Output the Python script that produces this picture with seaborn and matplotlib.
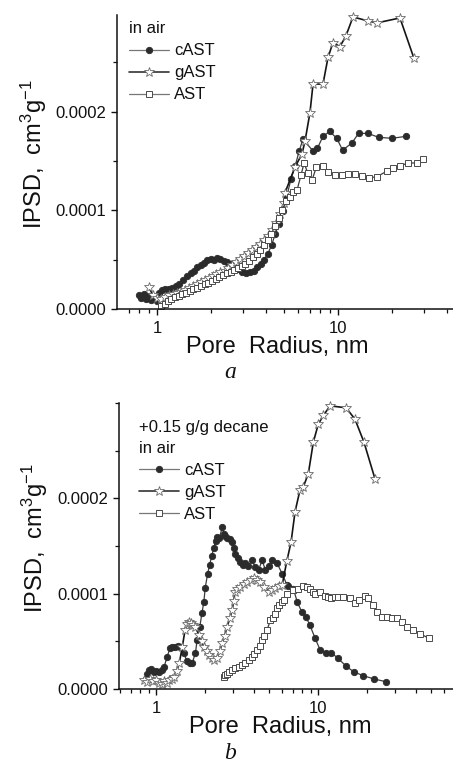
import numpy as np
import pandas as pd
import matplotlib
matplotlib.use("Agg")
import matplotlib.pyplot as plt
import matplotlib.ticker as mticker
import seaborn as sns

# ---------------- data ----------------
# Panel a: in air
a_cAST_r = [0.80, 0.82, 0.85, 0.87, 0.90, 0.93, 0.96, 1.00, 1.03, 1.07, 1.11, 1.16, 1.21, 1.27,
            1.33, 1.40, 1.47, 1.54, 1.60, 1.67, 1.75, 1.82, 1.90, 1.98, 2.06, 2.15, 2.24, 2.34,
            2.44, 2.55, 2.68, 2.82, 2.95, 3.10, 3.26, 3.42, 3.58, 3.74, 3.90, 4.10, 4.30, 4.50,
            4.70, 4.95, 5.2, 5.5, 5.8, 6.1, 6.4, 7.3, 7.7, 8.26, 9.0, 9.85, 10.6, 11.9, 13.0,
            14.6, 16.8, 19.9, 23.7]
a_cAST_v = [1.4e-5, 1.1e-5, 1.5e-5, 1.0e-5, 1.3e-5, 0.9e-5, 1.2e-5, 0.8e-5, 1.6e-5, 1.9e-5,
            2.0e-5, 2.0e-5, 2.1e-5, 2.3e-5, 2.5e-5, 2.9e-5, 3.3e-5, 3.6e-5, 3.9e-5, 4.3e-5,
            4.5e-5, 4.7e-5, 5.0e-5, 5.1e-5, 5.0e-5, 5.2e-5, 5.1e-5, 4.9e-5, 4.8e-5, 4.6e-5,
            4.4e-5, 4.1e-5, 3.8e-5, 3.6e-5, 3.7e-5, 3.9e-5, 4.3e-5, 4.6e-5, 5.0e-5, 5.6e-5,
            6.5e-5, 7.6e-5, 8.6e-5, 9.9e-5, 1.13e-4, 1.32e-4, 1.45e-4, 1.60e-4, 1.72e-4,
            1.60e-4, 1.63e-4, 1.75e-4, 1.80e-4, 1.73e-4, 1.61e-4, 1.68e-4, 1.78e-4, 1.78e-4,
            1.74e-4, 1.73e-4, 1.75e-4]

a_gAST_r = [0.90, 0.95, 1.00, 1.05, 1.10, 1.16, 1.22, 1.29, 1.36, 1.43, 1.50, 1.58, 1.66, 1.75,
            1.84, 1.93, 2.03, 2.13, 2.24, 2.36, 2.48, 2.61, 2.74, 2.88, 3.03, 3.19, 3.35, 3.52,
            3.70, 3.90, 4.10, 4.31, 4.53, 4.76, 5.00, 5.10, 5.79, 6.32, 6.57, 7.00, 7.28, 8.26,
            8.81, 9.38, 10.26, 11.07, 12.10, 14.65, 16.41, 22.0, 26.3]
a_gAST_v = [2.2e-5, 1.4e-5, 1.1e-5, 1.0e-5, 1.2e-5, 1.4e-5, 1.5e-5, 1.6e-5, 1.7e-5, 1.9e-5,
            2.1e-5, 2.3e-5, 2.5e-5, 2.7e-5, 2.9e-5, 3.1e-5, 3.3e-5, 3.5e-5, 3.7e-5, 3.9e-5,
            4.2e-5, 4.5e-5, 4.8e-5, 5.1e-5, 5.4e-5, 5.7e-5, 6.0e-5, 6.3e-5, 6.6e-5, 7.0e-5,
            7.4e-5, 8.0e-5, 8.7e-5, 9.6e-5, 1.07e-4, 1.18e-4, 1.44e-4, 1.57e-4, 1.70e-4,
            1.99e-4, 2.28e-4, 2.28e-4, 2.55e-4, 2.70e-4, 2.66e-4, 2.77e-4, 2.96e-4, 2.92e-4,
            2.90e-4, 2.95e-4, 2.54e-4]

a_AST_r = [1.05, 1.10, 1.15, 1.20, 1.26, 1.32, 1.38, 1.45, 1.52, 1.59, 1.67, 1.75, 1.83, 1.92,
           2.01, 2.11, 2.21, 2.32, 2.43, 2.55, 2.67, 2.80, 2.94, 3.08, 3.23, 3.38, 3.55, 3.72,
           3.90, 4.08, 4.28, 4.48, 4.70, 4.92, 5.15, 5.40, 5.65, 5.95, 6.25, 6.5, 6.8, 7.2,
           7.6, 8.26, 8.8, 9.6, 10.5, 11.4, 12.4, 13.6, 14.8, 16.4, 18.7, 20.1, 22.0, 24.4,
           27.2, 29.5]
a_AST_v = [3e-6, 5e-6, 8e-6, 1.0e-5, 1.2e-5, 1.3e-5, 1.5e-5, 1.6e-5, 1.8e-5, 2.0e-5, 2.1e-5,
           2.3e-5, 2.5e-5, 2.6e-5, 2.8e-5, 3.0e-5, 3.2e-5, 3.4e-5, 3.6e-5, 3.8e-5, 4.0e-5,
           4.2e-5, 4.4e-5, 4.6e-5, 4.9e-5, 5.3e-5, 5.6e-5, 6.0e-5, 6.5e-5, 7.0e-5, 7.6e-5,
           8.4e-5, 9.2e-5, 1.0e-4, 1.09e-4, 1.14e-4, 1.19e-4, 1.21e-4, 1.36e-4, 1.48e-4,
           1.38e-4, 1.31e-4, 1.44e-4, 1.45e-4, 1.39e-4, 1.36e-4, 1.36e-4, 1.37e-4, 1.37e-4,
           1.35e-4, 1.33e-4, 1.34e-4, 1.40e-4, 1.43e-4, 1.45e-4, 1.48e-4, 1.48e-4, 1.52e-4]

# Panel b: +0.15 g/g decane, in air
b_cAST_r = [0.86, 0.88, 0.90, 0.93, 0.97, 1.00, 1.04, 1.08, 1.12, 1.17, 1.22, 1.26, 1.31, 1.36,
            1.41, 1.48, 1.55, 1.61, 1.67, 1.75, 1.79, 1.86, 1.92, 1.97, 2.01, 2.08, 2.14, 2.20,
            2.27, 2.33, 2.38, 2.46, 2.56, 2.62, 2.68, 2.74, 2.85, 2.95, 3.02, 3.09, 3.20, 3.31,
            3.43, 3.56, 3.70, 3.91, 4.10, 4.30, 4.51, 4.73, 4.95, 5.20, 5.58, 6.00, 6.43, 6.56,
            7.04, 7.45, 7.93, 8.4, 8.9, 9.6, 10.3, 11.2, 12.1, 13.3, 14.9, 16.6, 19.0, 22.2,
            26.3]
b_cAST_v = [1.0e-5, 1.6e-5, 2.0e-5, 2.1e-5, 1.8e-5, 1.9e-5, 1.8e-5, 2.0e-5, 2.3e-5, 3.4e-5,
            4.3e-5, 4.4e-5, 4.4e-5, 4.5e-5, 4.4e-5, 3.8e-5, 2.9e-5, 2.7e-5, 2.7e-5, 3.8e-5,
            5.1e-5, 6.5e-5, 8.0e-5, 9.1e-5, 1.06e-4, 1.21e-4, 1.30e-4, 1.39e-4, 1.48e-4,
            1.55e-4, 1.59e-4, 1.58e-4, 1.70e-4, 1.63e-4, 1.60e-4, 1.58e-4, 1.57e-4, 1.54e-4,
            1.48e-4, 1.42e-4, 1.37e-4, 1.33e-4, 1.30e-4, 1.32e-4, 1.29e-4, 1.35e-4, 1.28e-4,
            1.25e-4, 1.35e-4, 1.25e-4, 1.29e-4, 1.35e-4, 1.32e-4, 1.21e-4, 1.09e-4, 1.08e-4,
            1.05e-4, 9.1e-5, 8.1e-5, 7.6e-5, 6.7e-5, 5.3e-5, 4.1e-5, 3.8e-5, 3.8e-5, 3.2e-5,
            2.4e-5, 1.8e-5, 1.4e-5, 1.05e-5, 7.6e-6]

b_gAST_r = [0.84, 0.88, 0.92, 0.96, 1.00, 1.04, 1.08, 1.12, 1.16, 1.20, 1.25, 1.29, 1.34, 1.39,
            1.45, 1.51, 1.56, 1.60, 1.65, 1.70, 1.74, 1.84, 1.91, 1.98, 2.05, 2.12, 2.20, 2.28,
            2.38, 2.47, 2.56, 2.65, 2.74, 2.85, 2.95, 3.01, 3.07, 3.18, 3.30, 3.47, 3.64, 3.83,
            4.02, 4.20, 4.38, 4.63, 4.98, 5.20, 5.43, 5.70, 6.00, 6.41, 6.81, 7.21, 7.74, 8.11,
            8.71, 9.35, 10.04, 10.79, 11.86, 14.9, 16.9, 19.2, 22.5]
b_gAST_v = [9e-6, 7e-6, 1.0e-5, 8e-6, 9e-6, 6e-6, 5e-6, 8e-6, 6e-6, 9e-6, 1.1e-5, 1.3e-5,
            1.9e-5, 2.7e-5, 4.4e-5, 6.2e-5, 6.8e-5, 7.0e-5, 6.9e-5, 6.7e-5, 6.5e-5, 5.7e-5,
            5.0e-5, 4.4e-5, 4.0e-5, 3.6e-5, 3.3e-5, 3.0e-5, 3.3e-5, 4.0e-5, 4.8e-5, 5.6e-5,
            6.5e-5, 7.4e-5, 8.3e-5, 9.2e-5, 1.02e-4, 1.05e-4, 1.07e-4, 1.10e-4, 1.12e-4,
            1.14e-4, 1.16e-4, 1.14e-4, 1.12e-4, 1.07e-4, 1.02e-4, 1.04e-4, 1.06e-4, 1.08e-4,
            1.09e-4, 1.34e-4, 1.54e-4, 1.86e-4, 2.09e-4, 2.12e-4, 2.26e-4, 2.59e-4, 2.78e-4,
            2.87e-4, 2.97e-4, 2.95e-4, 2.83e-4, 2.59e-4, 2.20e-4]

b_AST_r = [2.62, 2.68, 2.75, 2.82, 2.95, 3.09, 3.24, 3.40, 3.56, 3.73, 3.91, 4.05, 4.20, 4.38,
           4.50, 4.65, 4.84, 5.08, 5.25, 5.45, 5.60, 5.75, 5.97, 6.13, 6.42, 7.04, 7.55, 8.1,
           8.5, 8.9, 9.3, 9.6, 10.3, 11.0, 11.5, 12.1, 12.7, 13.3, 14.3, 15.7, 16.9, 18.0,
           19.5, 20.4, 21.9, 23.2, 24.7, 26.5, 28.5, 30.6, 32.9, 35.3, 38.8, 42.6, 48.6]
b_AST_v = [1.3e-5, 1.5e-5, 1.6e-5, 1.8e-5, 2.0e-5, 2.2e-5, 2.3e-5, 2.5e-5, 2.7e-5, 3.0e-5,
           3.4e-5, 3.7e-5, 4.1e-5, 4.5e-5, 5.1e-5, 5.6e-5, 6.2e-5, 7.2e-5, 7.5e-5, 7.9e-5,
           8.5e-5, 8.8e-5, 9.1e-5, 9.3e-5, 1.00e-4, 1.04e-4, 1.05e-4, 1.08e-4, 1.07e-4,
           1.05e-4, 1.02e-4, 1.00e-4, 1.02e-4, 9.8e-5, 9.6e-5, 9.5e-5, 9.6e-5, 9.7e-5, 9.7e-5,
           9.5e-5, 9.0e-5, 9.3e-5, 9.8e-5, 9.5e-5, 8.8e-5, 8.1e-5, 7.6e-5, 7.6e-5, 7.5e-5,
           7.4e-5, 7.0e-5, 6.5e-5, 6.2e-5, 5.8e-5, 5.3e-5]

series_names = ["cAST", "gAST", "AST"]
y_tick_values = [0.0, 0.0001, 0.0002]
y_tick_labels = ["0.0000", "0.0001", "0.0002"]
x_tick_values = [1, 10]
x_tick_labels = ["1", "10"]
x_label = "Pore  Radius, nm"
y_label = "IPSD,  cm$^3$g$^{-1}$"
title_a = "in air"
title_b = "+0.15 g/g decane\nin air"

# ---------------- style ----------------
sns.set_theme(style="ticks")
plt.rcParams["font.family"] = ["Liberation Sans", "DejaVu Sans"]
plt.rcParams["mathtext.fontset"] = "custom"
plt.rcParams["mathtext.rm"] = "Liberation Sans"
plt.rcParams["mathtext.default"] = "regular"

W, H = 453, 766
fig = plt.figure(figsize=(W / 100, H / 100), dpi=100)
fig.patch.set_facecolor("white")

styles = {
    "cAST": dict(marker="o", markersize=4.6, markerfacecolor="#2b2b2b",
                 markeredgecolor="#2b2b2b", markeredgewidth=0.6, color="#3c3c3c", linewidth=0.9),
    "gAST": dict(marker="*", markersize=7.0, markerfacecolor="white",
                 markeredgecolor="#6a6a6a", markeredgewidth=0.6, color="#151515", linewidth=1.2),
    "AST": dict(marker="s", markersize=5.0, markerfacecolor="white",
                markeredgecolor="#4a4a4a", markeredgewidth=0.7, color="#3c3c3c", linewidth=0.9),
}


def px_axes(l, t, r, b):
    return [l / W, 1 - b / H, (r - l) / W, (b - t) / H]


def make_panel(rect, xlim, ylim, data, title, leg_anchor):
    ax = fig.add_axes(rect)
    ax.set_facecolor("white")
    ax.set_xscale("log")
    for name, (rv, vv) in zip(series_names, data):
        df = pd.DataFrame({"r": rv, "v": vv})
        sns.lineplot(data=df, x="r", y="v", ax=ax, estimator=None, sort=False,
                     label=name, clip_on=False, **styles[name])
    ax.set_xlim(*xlim)
    ax.set_ylim(*ylim)
    ax.set_xlabel("")
    ax.set_ylabel("")
    for s in ["top", "right"]:
        ax.spines[s].set_visible(False)
    for s in ["left", "bottom"]:
        ax.spines[s].set_color("#111111")
        ax.spines[s].set_linewidth(1.1)
    ax.yaxis.set_major_locator(mticker.FixedLocator(y_tick_values))
    ax.yaxis.set_major_formatter(mticker.FixedFormatter(y_tick_labels))
    ax.yaxis.set_minor_locator(mticker.MultipleLocator(0.00005))
    ax.xaxis.set_major_locator(mticker.FixedLocator(x_tick_values))
    ax.xaxis.set_major_formatter(mticker.FixedFormatter(x_tick_labels))
    ax.xaxis.set_minor_locator(mticker.LogLocator(base=10, subs=np.arange(2, 10)))
    ax.xaxis.set_minor_formatter(mticker.NullFormatter())
    ax.tick_params(which="major", direction="out", length=4.5, width=1.0,
                   labelsize=12, colors="#111111", pad=3)
    ax.tick_params(which="minor", direction="out", length=2.8, width=0.9, colors="#111111")
    ax.tick_params(axis="x", which="major", pad=4)
    leg = ax.legend(title=title, loc="upper left", bbox_to_anchor=leg_anchor,
                    frameon=False, fontsize=12, title_fontsize=12, alignment="left",
                    handlelength=2.4, handletextpad=0.3, labelspacing=0.42,
                    borderpad=0, borderaxespad=0)
    for t in leg.get_texts():
        t.set_color("#111111")
    leg.get_title().set_color("#111111")
    leg.get_title().set_linespacing(1.5)
    for h in leg.legend_handles:
        h.set_color("#777777")
    return ax


ax_a = make_panel(px_axes(117, 15, 453, 309), (0.601, 43.2), (0, 0.000298),
                  [(a_cAST_r, a_cAST_v), (a_gAST_r, a_gAST_v), (a_AST_r, a_AST_v)],
                  title_a, (0.036, 0.978))
ax_b = make_panel(px_axes(119, 403, 453, 689), (0.59, 68.1), (0, 0.0003),
                  [(b_cAST_r, b_cAST_v), (b_gAST_r, b_gAST_v), (b_AST_r, b_AST_v)],
                  title_b, (0.06, 0.94))

# restore marker colours in legend handles after the line colour change
for ax in (ax_a, ax_b):
    leg = ax.get_legend()
    for h, name in zip(leg.legend_handles, series_names):
        h.set_markerfacecolor(styles[name]["markerfacecolor"])
        h.set_markeredgecolor(styles[name]["markeredgecolor"])
        if name == "gAST":
            h.set_color("#333333")

# axis labels
fig.text(277 / W, 1 - 353 / H, x_label, ha="center", va="baseline", fontsize=17, color="#111111")
fig.text(280 / W, 1 - 733 / H, x_label, ha="center", va="baseline", fontsize=17, color="#111111")
fig.text(42 / W, 1 - 154 / H, y_label, ha="center", va="baseline", rotation=90,
         rotation_mode="anchor", fontsize=17, color="#111111")
fig.text(43 / W, 1 - 538 / H, y_label, ha="center", va="baseline", rotation=90,
         rotation_mode="anchor", fontsize=17, color="#111111")

# panel letters
fig.text(230 / W, 1 - 378 / H, "a", ha="center", va="baseline", fontsize=17,
         family=["Liberation Serif", "DejaVu Serif"], style="italic", color="#111111")
fig.text(230 / W, 1 - 759 / H, "b", ha="center", va="baseline", fontsize=17,
         family=["Liberation Serif", "DejaVu Serif"], style="italic", color="#111111")

fig.savefig("out.png", dpi=100, facecolor="white")
